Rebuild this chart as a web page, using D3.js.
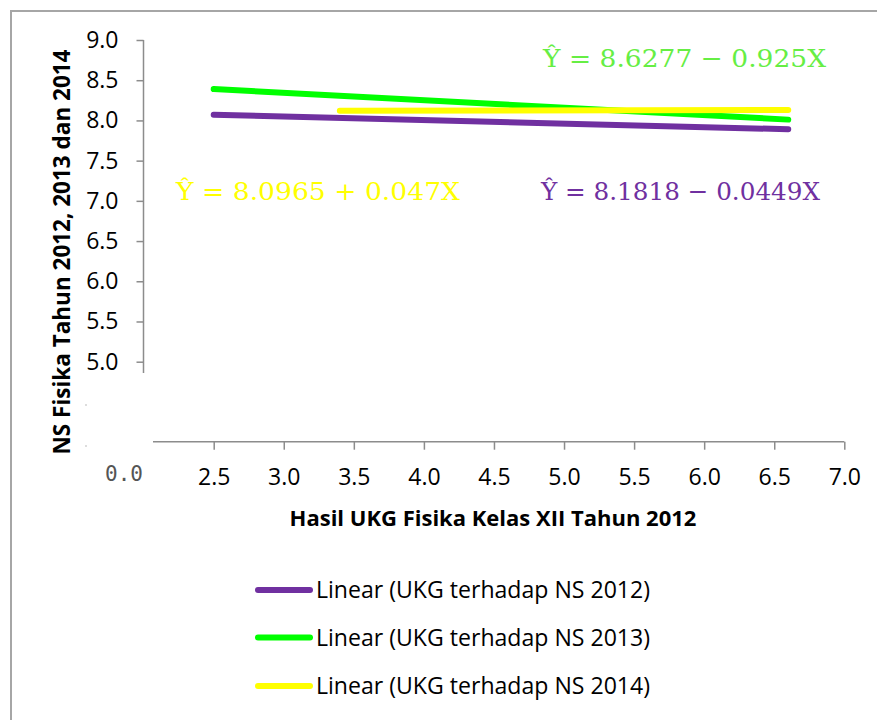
<!DOCTYPE html>
<html><head><meta charset="utf-8">
<script src="https://cdn.jsdelivr.net/npm/d3@7"></script>
<style>body{margin:0;background:#fff}svg{display:block}</style>
</head><body>
<svg id="c" width="877" height="720"></svg>
<script>
// ---- data ----
const xTicks = [2.5, 3.0, 3.5, 4.0, 4.5, 5.0, 5.5, 6.0, 6.5, 7.0];
const yTicks = [5.0, 5.5, 6.0, 6.5, 7.0, 7.5, 8.0, 8.5, 9.0];
const seriesNames = ["Linear (UKG terhadap NS 2012)", "Linear (UKG terhadap NS 2013)", "Linear (UKG terhadap NS 2014)"];
const seriesColors = ["#7030A0", "#00FF00", "#FFFF00"];
const line2012 = [[2.5, 8.07], [6.6, 7.89]];
const line2013 = [[2.5, 8.39], [6.6, 8.01]];
const line2014 = [[3.4, 8.12], [6.6, 8.13]];
const equations = ["Ŷ = 8.1818 − 0.0449X", "Ŷ = 8.6277 − 0.925X", "Ŷ = 8.0965 + 0.047X"];
const eqColors = ["#7030A0", "#66EE44", "#FFFF00"];
const xTitle = "Hasil UKG Fisika Kelas XII Tahun 2012";
const yTitle = "NS Fisika Tahun 2012, 2013 dan 2014";

const svg = d3.select("#c");
const font = "'Open Sans', sans-serif";

function fit(sel, target) {
  const len = sel.node().getComputedTextLength();
  const fs = parseFloat(sel.attr("font-size"));
  sel.attr("font-size", (fs * target / len).toFixed(2));
}

// border
svg.append("path").attr("d", "M11,900 L11,11 L900,11")
  .attr("fill", "none").attr("stroke", "#a6a6a6").attr("stroke-width", 2);

const x = d3.scaleLinear().domain([2.5, 7.0]).range([213.7, 844.3]);
const y = d3.scaleLinear().domain([5.0, 9.0]).range([361.7, 40]);

// y axis
const gy = svg.append("g").attr("transform", "translate(143.5,0)")
  .call(d3.axisLeft(y).tickValues(yTicks).tickFormat(d3.format(".1f")).tickSize(7).tickPadding(18));
gy.select(".domain").remove();
gy.append("line").attr("x1", 0).attr("x2", 0).attr("y1", y(9.0)).attr("y2", 373)
  .attr("stroke", "#8c8c8c").attr("stroke-width", 1.5);
gy.selectAll(".tick line").attr("stroke", "#8c8c8c").attr("stroke-width", 1.5);
gy.selectAll(".tick text").attr("font-family", font).attr("font-size", 23).attr("fill", "#000");

// x axis
const gx = svg.append("g").attr("transform", "translate(0,441.7)")
  .call(d3.axisBottom(x).tickValues(xTicks).tickFormat(d3.format(".1f")).tickSize(8).tickPadding(19));
gx.select(".domain").remove();
gx.append("line").attr("x1", 153).attr("x2", x(7.0)).attr("y1", 0).attr("y2", 0)
  .attr("stroke", "#8c8c8c").attr("stroke-width", 1.5);
gx.selectAll(".tick line").attr("stroke", "#8c8c8c").attr("stroke-width", 1.5);
gx.selectAll(".tick text").attr("font-family", font).attr("font-size", 23).attr("fill", "#000");

// stray "0.0" label and remnant ticks
svg.append("text").attr("x", 124).attr("y", 481).attr("text-anchor", "middle")
  .attr("font-family", "'DejaVu Sans Mono', monospace").attr("font-size", 21).attr("fill", "#555")
  .text("0.0");
svg.append("rect").attr("x", 85.5).attr("y", 404).attr("width", 1).attr("height", 2).attr("fill", "#bbb");
svg.append("rect").attr("x", 85.5).attr("y", 445).attr("width", 1).attr("height", 2).attr("fill", "#bbb");

// titles
const yt = svg.append("text").attr("transform", "translate(70,252) rotate(-90)")
  .attr("text-anchor", "middle").attr("font-family", font).attr("font-weight", "bold")
  .attr("font-size", 20).attr("fill", "#000").text(yTitle);
fit(yt, 405);
const xt = svg.append("text").attr("x", 493).attr("y", 526)
  .attr("text-anchor", "middle").attr("font-family", font).attr("font-weight", "bold")
  .attr("font-size", 20).attr("fill", "#000").text(xTitle);
fit(xt, 407);

// trend lines
const lineGen = d3.line().x(d => x(d[0])).y(d => y(d[1]));
[line2012, line2013, line2014].forEach((d, i) => {
  svg.append("path").attr("d", lineGen(d)).attr("fill", "none")
    .attr("stroke", seriesColors[i]).attr("stroke-width", 6).attr("stroke-linecap", "round");
});

// equations
const eqPos = [[541, 200, 279], [543, 67, 283], [176, 200, 284]];
equations.forEach((s, i) => {
  svg.append("text").attr("x", eqPos[i][0]).attr("y", eqPos[i][1])
    .attr("font-family", "'DejaVu Serif', serif").attr("font-size", 25)
    .attr("fill", eqColors[i]).attr("textLength", eqPos[i][2])
    .attr("lengthAdjust", "spacingAndGlyphs").text(s);
});

// legend
const legY = [590, 637.5, 686];
seriesNames.forEach((n, i) => {
  svg.append("line").attr("x1", 258).attr("x2", 310).attr("y1", legY[i]).attr("y2", legY[i])
    .attr("stroke", seriesColors[i]).attr("stroke-width", 6).attr("stroke-linecap", "round");
  const t = svg.append("text").attr("x", 316).attr("y", legY[i] + 8)
    .attr("font-family", font).attr("font-size", 20).attr("fill", "#000").text(n);
  fit(t, 334);
});
</script>
</body></html>
